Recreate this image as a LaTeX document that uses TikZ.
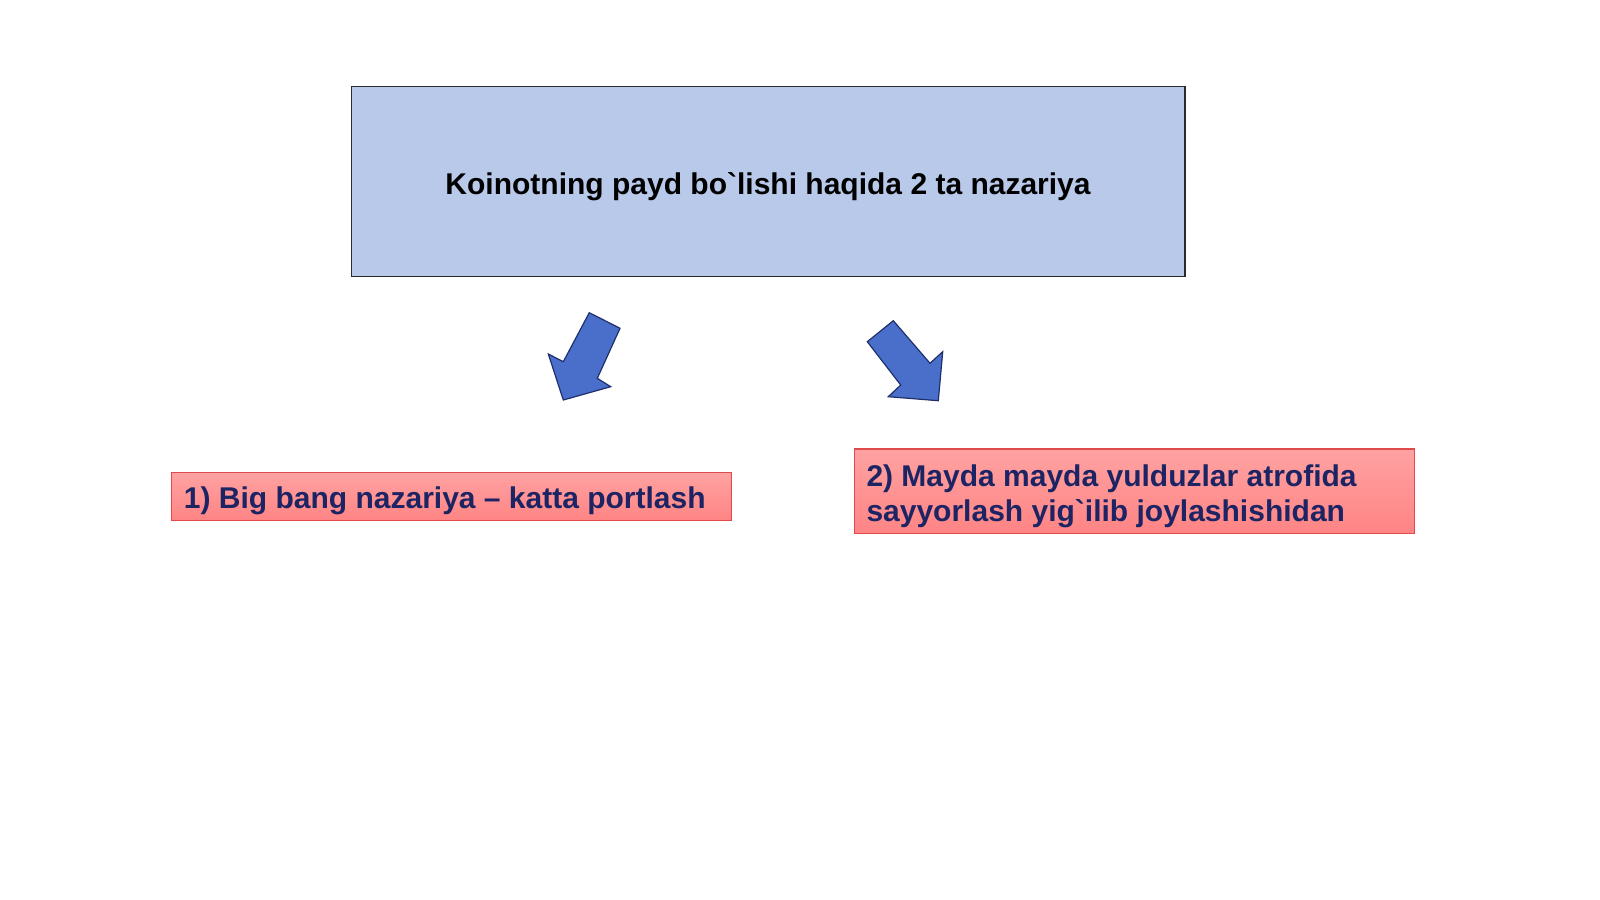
\documentclass[tikz,border=0pt]{standalone}
\usepackage{fontspec}
\newfontfamily\slidefont{Liberation Sans}
\definecolor{topfill}{HTML}{B9C9E9}
\definecolor{topline}{HTML}{2B2B2B}
\definecolor{pinktop}{HTML}{FFA2A2}
\definecolor{pinkbottom}{HTML}{FF8484}
\definecolor{pinkline}{HTML}{E04A4A}
\definecolor{navytext}{HTML}{1C2464}
\definecolor{arrowfill}{HTML}{4A6FCB}
\definecolor{arrowline}{HTML}{1F2F6B}
\begin{document}
\begin{tikzpicture}[x=1pt, y=-1pt,
  redbox/.style={draw=pinkline, line width=1.2pt, top color=pinktop, bottom color=pinkbottom,
    minimum width=560pt, inner sep=0pt},
  redtext/.style={inner sep=0pt, anchor=base west, align=left, text=navytext,
    font=\slidefont\bfseries\fontsize{30}{35.6}\selectfont},
  bluearrow/.style={draw=arrowline, fill=arrowfill, line width=1.2pt, line join=miter}]
\fill[white] (0,0) rectangle (1600,899);
\useasboundingbox (0,0) rectangle (1600,899);
\node[draw=topline, line width=1.3pt, fill=topfill, minimum width=833.7pt, minimum height=189.8pt,
  text height=32pt, text depth=6.5pt,
  font=\slidefont\bfseries\fontsize{30}{36}\selectfont] (theories) at (768,181.6) {Koinotning payd bo`lishi haqida 2 ta nazariya};
% left arrow
\draw[bluearrow] (589.3,312.7) -- (620,328.3) -- (597.3,378.3) -- (610.7,386.7) -- (563.3,400) -- (548.3,354) -- (563.3,361.7) -- cycle;
% right arrow
\draw[bluearrow] (867.3,341.7) -- (893.3,320.7) -- (930,363.3) -- (942.7,351.7) -- (938.3,400.7) -- (888.3,396.7) -- (900.7,385) -- cycle;
\node[redbox, minimum height=48pt] (bigbang) at (451.5,496.4) {};
\node[redtext] (bigbangtext) at (183.7,508.3) {1) Big bang nazariya – katta portlash};
\node[redbox, minimum height=84.7pt] (stars) at (1134.2,491.4) {};
\node[redtext] (starstext) at (866.3,521.7) {2) Mayda mayda yulduzlar atrofida\\sayyorlash yig`ilib joylashishidan};
\end{tikzpicture}
\end{document}
